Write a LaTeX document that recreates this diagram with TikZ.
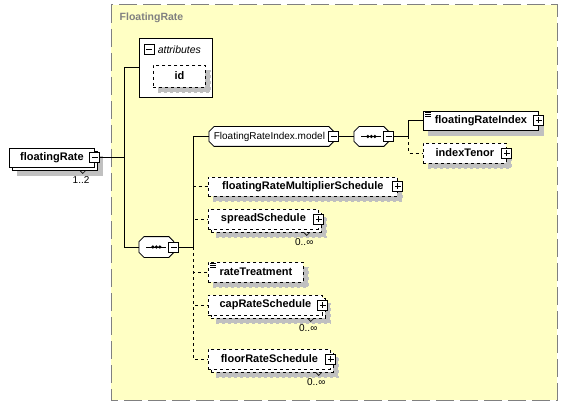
\documentclass[tikz,border=0pt]{standalone}
\usepackage{fontspec}
\setmainfont{Liberation Sans}
\usetikzlibrary{positioning,shadows}
\definecolor{groupbg}{RGB}{255,255,196}
\definecolor{groupline}{RGB}{128,128,128}
\definecolor{shade}{RGB}{192,192,192}
\begin{document}
\begin{tikzpicture}[x=1pt, y=-1pt, line width=0.8pt]
    \tikzset{
      elem/.style={
        draw, fill=white, rectangle, anchor=west, minimum height=19pt, inner sep=0pt,
        font=\fontsize{11}{13}\selectfont\bfseries,
      },
      one/.style={drop shadow={shadow xshift=5pt, shadow yshift=-5pt, fill=shade, draw=shade, opacity=1}},
      many/.style={
        drop shadow={shadow xshift=8pt, shadow yshift=-8pt, fill=shade, draw=shade, opacity=1},
        copy shadow={shadow xshift=3pt, shadow yshift=-3pt, fill=white, draw=black},
      },
      opt/.style={dashed},
      group/.style={
        rectangle, anchor=west, minimum height=19pt, inner sep=0pt,
        font=\fontsize{10}{12}\selectfont,
      },
      pm/.style={draw, fill=white, minimum size=10pt, inner sep=0pt},
      minus/.style={pm, path picture={
        \draw ([xshift=2pt]path picture bounding box.west) -- ([xshift=-2pt]path picture bounding box.east);}},
      plus/.style={pm, path picture={
        \draw ([xshift=2pt]path picture bounding box.west) -- ([xshift=-2pt]path picture bounding box.east);
        \draw ([yshift=-2pt]path picture bounding box.north) -- ([yshift=2pt]path picture bounding box.south);}},
      mult/.style={inner sep=0pt, font=\fontsize{10}{12}\selectfont},
    }
    \useasboundingbox (0,0) rectangle (567,406);
    % group box
    \draw[groupline, fill=groupbg, dash pattern=on 18pt off 6pt, line width=1pt] (111,5) rectangle (557,400);
    \node (grp title) [anchor=west, text=groupline, font=\fontsize{10.5}{12}\selectfont\bfseries] at (116,18) {FloatingRate};

    % root and attributes
    \node (root) [elem, many, minimum width=85pt] at (9,157.5) {floatingRate};
    \node (root sign) [minus] at (root.east) {};
    \node (attr) [draw, fill=white, anchor=north west, minimum width=73pt, minimum height=59pt] at (139,38) {};
    \node (attr sign) [minus] at (149,49.5) {};
    \node (attr title) [anchor=west, inner sep=0pt, font=\fontsize{10.5}{12}\selectfont\itshape, right=3pt of attr sign] {attributes};
    \node (id) [elem, one, opt, minimum width=52pt, minimum height=22pt] at (153,76) {id};

    % compositors
    \node (seq1) [group, minimum width=34pt, minimum height=20pt] at (139,247) {};
    \node (model) [group, minimum width=124pt] at (209,136.5) {};
    \node (seq2) [group, minimum width=34pt] at (354,136.5) {};
    \foreach \s in {seq1, model, seq2} {
      \foreach \o/\c/\l in {5/shade/shade, 0/white/black}
        \draw[fill=\c, draw=\l, shift={(\o,\o)}]
          ([xshift=5pt]\s.north west) -- ([xshift=-5pt]\s.north east) -- ([yshift=-5pt]\s.north east)
          -- ([yshift=5pt]\s.south east) -- ([xshift=-5pt]\s.south east) -- ([xshift=5pt]\s.south west)
          -- ([yshift=5pt]\s.south west) -- ([yshift=-5pt]\s.north west) -- cycle;
      \node (\s\space sign) [minus] at (\s.east) {};
    }
    \node (model text) [group, anchor=center] at ([xshift=-2pt]model.center) {FloatingRateIndex.model};
    \foreach \s in {seq1, seq2} {
      \draw[line width=1pt] ([xshift=-10pt]\s.center) -- ([xshift=10pt]\s.center);
      \foreach \d in {-3.5, 0, 3.5}
        \fill ([xshift=\d pt]\s.center) circle (1.8);
    }

    % elements
    \node (fri) [elem, one, minimum width=115pt] at (423,120.5) {floatingRateIndex};
    \node (tenor) [elem, one, opt, minimum width=83pt, minimum height=20pt] at (423,153) {indexTenor};
    \node (multiplier) [elem, one, opt, minimum width=189pt] at (208,186.5) {floatingRateMultiplierSchedule};
    \node (spread) [elem, many, opt, minimum width=110pt, minimum height=20pt] at (208,219) {spreadSchedule};
    \node (rate) [elem, one, opt, minimum width=95pt, minimum height=20pt] at (208,272) {rateTreatment};
    \node (cap) [elem, many, opt, minimum width=114pt, minimum height=20pt] at (208,305) {capRateSchedule};
    \node (floor) [elem, many, opt, minimum width=122pt, minimum height=20pt] at (208,359) {floorRateSchedule};
    \foreach \n in {fri, tenor, multiplier, spread, cap, floor}
      \node (\n\space sign) [plus] at (\n.east) {};
    \foreach \n in {fri, rate}
      \foreach \d in {2, 4, 6}
        \draw[line width=0.6pt] ([shift={(2,\d)}]\n.north west) -- ++(6,0);

    % occurrences
    \foreach \n/\m in {root/{1..2}, spread/{0..∞}, cap/{0..∞}, floor/{0..∞}} {
      \draw[line width=0.6pt] ([shift={(-15,3)}]\n.south east) -- ++(3,3) -- ++(3,-3);
      \node (\n\space mult) [mult, below left=9pt and 5pt of \n.south east] {\m};
    }

    % connectors
    \coordinate (bus1) at (124,157.5);
    \draw (root sign) -- (bus1);
    \draw (bus1) |- (attr.west);
    \draw (bus1) |- (seq1.west);
    \coordinate (bus2) at (193,247);
    \draw (seq1 sign) -- (bus2);
    \draw (bus2) |- (model.west);
    \foreach \n in {multiplier, spread, rate, cap, floor}
      \draw[dashed] (bus2) |- (\n.west);
    \coordinate (bus3) at (408,136.5);
    \draw (model sign) -- (seq2);
    \draw (seq2 sign) -- (bus3);
    \draw (bus3) |- (fri.west);
    \draw[dashed] (bus3) |- (tenor.west);
  \end{tikzpicture}
\end{document}
